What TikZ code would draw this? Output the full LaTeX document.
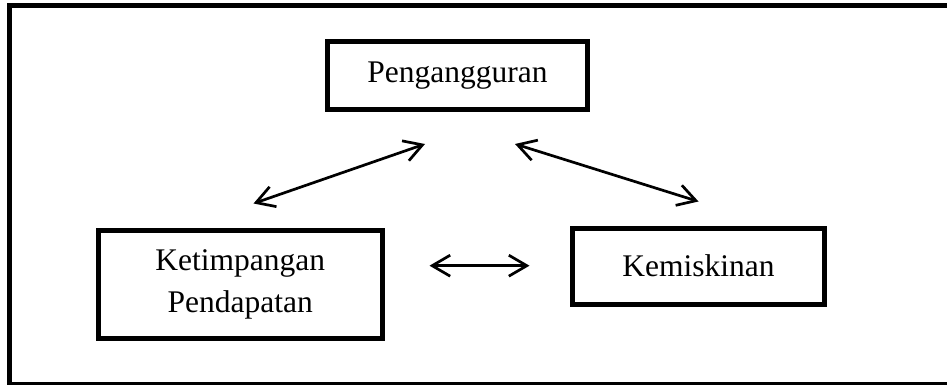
\documentclass[tikz,border=0pt]{standalone}
\usepackage{fontspec}
\setmainfont{Liberation Serif}
\usetikzlibrary{arrows.meta}
\begin{document}
\begin{tikzpicture}[x=1pt,y=-1pt,
  box/.style={draw, line width=5pt, inner sep=0pt, align=center,
    font=\fontsize{31.5}{42}\selectfont},
  link/.style={line width=2.7pt, {Straight Barb[length=18pt,width=21pt]}-{Straight Barb[length=18pt,width=21pt]}}]
\useasboundingbox (0,0) rectangle (947,385);
\clip (0,0) rectangle (947,385);
\fill[white] (0,0) rectangle (947,385);
\draw[line width=5pt] (960,6) -- (9.5,6) -- (9.5,384.5) -- (960,384.5);
\node[box, minimum width=260pt, minimum height=68pt] (peng) at (457.5,76) {Pengangguran};
\node[box, minimum width=283.5pt, minimum height=108pt] (ketim) at (240.25,284) {Ketimpangan\\Pendapatan};
\node[box, minimum width=252pt, minimum height=76pt] (kemis) at (698.5,266) {Kemiskinan};
\coordinate (a1) at (253.5,203.5);
\coordinate (a2) at (425,144);
\coordinate (b1) at (515,144);
\coordinate (b2) at (698.5,201.5);
\coordinate (c1) at (429.5,265.7);
\coordinate (c2) at (529.5,265.7);
\draw[link] (a1) -- (a2);
\draw[link] (b1) -- (b2);
\draw[link] (c1) -- (c2);
\end{tikzpicture}
\end{document}
